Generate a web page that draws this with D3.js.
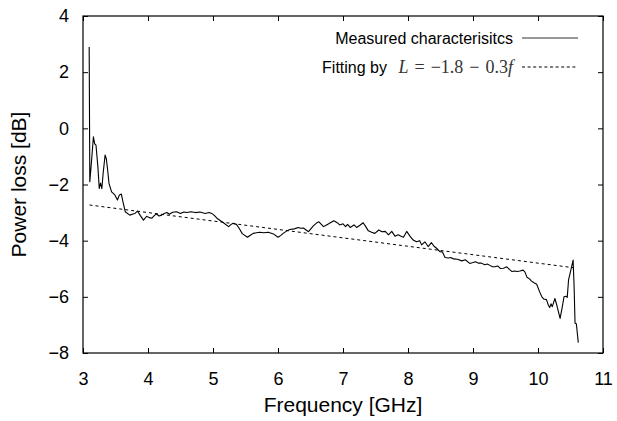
<!DOCTYPE html>
<html>
<head>
<meta charset="utf-8">
<script src="https://cdn.jsdelivr.net/npm/d3@7"></script>
<style>
  body { margin: 0; background: #fff; }
  svg text { font-family: "Liberation Sans", Arial, sans-serif; fill: #000; }
</style>
</head>
<body>
<svg id="chart" width="617" height="421"></svg>
<script>
// measured power loss [GHz, dB]
const measured = [
  [3.095, 2.9], [3.105, -1.9], [3.13, -1.2], [3.16, -0.3], [3.18, -0.55], [3.2, -0.6],
  [3.23, -1.4], [3.25, -2.14], [3.27, -1.95], [3.29, -2.15], [3.31, -1.6], [3.34, -0.95],
  [3.36, -1.1], [3.38, -1.5], [3.40, -1.96], [3.44, -2.26], [3.49, -2.37], [3.53, -2.55],
  [3.56, -2.37], [3.59, -2.34], [3.62, -2.67], [3.65, -2.97], [3.72, -3.09], [3.77, -3.05],
  [3.80, -3.03], [3.84, -2.95], [3.88, -3.1], [3.93, -3.27], [3.98, -3.13], [4.02, -3.18],
  [4.06, -3.2], [4.10, -3.1], [4.13, -3.05], [4.17, -3.12], [4.21, -3.09], [4.25, -3.03],
  [4.29, -3.0], [4.33, -3.06], [4.38, -2.99], [4.44, -2.97], [4.5, -3.03], [4.55, -2.98],
  [4.6, -3.0], [4.66, -2.97], [4.73, -3.0], [4.8, -2.98], [4.88, -3.03], [4.94, -3.0],
  [4.98, -3.03], [5.02, -3.1], [5.06, -3.2], [5.11, -3.28], [5.16, -3.36], [5.24, -3.5],
  [5.28, -3.42], [5.31, -3.38], [5.36, -3.42], [5.40, -3.55], [5.45, -3.75], [5.53, -3.88],
  [5.58, -3.8], [5.62, -3.74], [5.67, -3.72], [5.72, -3.70], [5.78, -3.72], [5.85, -3.70],
  [5.93, -3.76], [6.0, -3.88], [6.04, -3.82], [6.08, -3.74], [6.13, -3.66], [6.18, -3.6],
  [6.25, -3.58], [6.31, -3.53], [6.35, -3.56], [6.39, -3.55], [6.47, -3.68], [6.54, -3.48],
  [6.6, -3.36], [6.63, -3.33], [6.70, -3.5], [6.74, -3.45], [6.78, -3.40], [6.86, -3.29],
  [6.91, -3.36], [6.95, -3.44], [7.0, -3.40], [7.04, -3.5], [7.07, -3.42], [7.11, -3.53],
  [7.17, -3.44], [7.21, -3.53], [7.26, -3.45], [7.31, -3.36], [7.35, -3.5], [7.39, -3.65],
  [7.44, -3.7], [7.49, -3.74], [7.55, -3.62], [7.6, -3.68], [7.65, -3.67], [7.70, -3.79],
  [7.75, -3.67], [7.80, -3.84], [7.85, -3.79], [7.9, -3.85], [7.93, -3.88], [7.98, -3.67],
  [8.03, -3.84], [8.08, -3.98], [8.13, -4.04], [8.18, -4.0], [8.21, -4.15], [8.26, -4.04],
  [8.31, -4.21], [8.36, -4.07], [8.40, -4.2], [8.44, -4.27], [8.49, -4.39], [8.53, -4.4],
  [8.57, -4.6], [8.62, -4.62], [8.66, -4.6], [8.70, -4.65], [8.76, -4.66], [8.83, -4.72],
  [8.88, -4.68], [8.95, -4.81], [9.0, -4.78], [9.04, -4.75], [9.08, -4.8], [9.13, -4.8],
  [9.18, -4.86], [9.22, -4.83], [9.26, -4.88], [9.3, -4.93], [9.34, -4.93], [9.38, -4.9],
  [9.42, -4.99], [9.47, -4.98], [9.52, -4.93], [9.56, -5.02], [9.60, -5.1], [9.64, -5.08],
  [9.68, -5.1], [9.72, -5.08], [9.77, -5.05], [9.80, -5.12], [9.83, -5.3], [9.87, -5.36],
  [9.90, -5.44], [9.94, -5.5], [9.98, -5.55], [10.03, -5.85], [10.06, -6.0], [10.09, -6.08],
  [10.13, -6.1], [10.16, -6.3], [10.18, -6.38], [10.20, -6.25], [10.22, -6.35], [10.26, -6.06],
  [10.29, -6.3], [10.34, -6.77], [10.37, -6.4], [10.40, -6.0], [10.43, -5.98], [10.45, -6.02],
  [10.47, -5.4], [10.50, -5.1], [10.54, -4.69], [10.555, -5.6], [10.57, -6.94], [10.59, -6.96],
  [10.62, -7.63]
];

// fitted line L = -1.8 - 0.3 f, drawn over the measured band
const fitRange = [3.1, 10.55];
const fitCoef = [-1.8, -0.3];

const xTicks = [3, 4, 5, 6, 7, 8, 9, 10, 11];
const yTicks = [-8, -6, -4, -2, 0, 2, 4];

const svg = d3.select('#chart');
const margin = { left: 83, right: 14, top: 16, bottom: 68 };
const width = 617, height = 421;

const x = d3.scaleLinear().domain([3, 11]).range([margin.left, width - margin.right]);
const y = d3.scaleLinear().domain([-8, 4]).range([height - margin.bottom, margin.top]);

const tickLen = 5;

// axes with inward ticks on every side
const addAxis = (axis, tx, ty) => {
  const g = svg.append('g').attr('transform', `translate(${tx},${ty})`).call(axis);
  g.select('.domain').remove();
  g.selectAll('line').attr('stroke', '#000').attr('stroke-width', 1);
  return g;
};

const bottom = addAxis(d3.axisBottom(x).tickValues(xTicks).tickSize(-tickLen).tickPadding(19), 0, y(-8));
bottom.selectAll('text').style('font-size', '18px');
addAxis(d3.axisTop(x).tickValues(xTicks).tickSize(-tickLen).tickFormat(''), 0, y(4));

const left = addAxis(d3.axisLeft(y).tickValues(yTicks).tickSize(-tickLen).tickPadding(14), x(3), 0);
left.selectAll('text').style('font-size', '18px');
addAxis(d3.axisRight(y).tickValues(yTicks).tickSize(-tickLen).tickFormat(''), x(11), 0);

// frame
svg.append('rect')
  .attr('x', x(3)).attr('y', y(4))
  .attr('width', x(11) - x(3)).attr('height', y(-8) - y(4))
  .attr('fill', 'none').attr('stroke', '#000').attr('stroke-width', 1.2);

// fit line
const fitData = fitRange.map(f => [f, fitCoef[0] + fitCoef[1] * f]);
const line = d3.line().x(d => x(d[0])).y(d => y(d[1]));

svg.append('path')
  .datum(fitData)
  .attr('d', line)
  .attr('fill', 'none')
  .attr('stroke', '#000')
  .attr('stroke-width', 1)
  .attr('stroke-dasharray', '3,3');

// measured curve
svg.append('path')
  .datum(measured)
  .attr('d', line)
  .attr('fill', 'none')
  .attr('stroke', '#000')
  .attr('stroke-width', 1.1)
  .attr('stroke-linejoin', 'round');

// legend
const legX = 513, legLine = [522, 578];
svg.append('text')
  .attr('x', legX).attr('y', 44)
  .attr('text-anchor', 'end')
  .style('font-size', '16px')
  .text('Measured characterisitcs');
svg.append('line')
  .attr('x1', legLine[0]).attr('x2', legLine[1])
  .attr('y1', 38).attr('y2', 38)
  .attr('stroke', '#333').attr('stroke-width', 1.2);

svg.append('text')
  .attr('x', 387).attr('y', 72.5)
  .attr('text-anchor', 'end')
  .style('font-size', '16px')
  .text('Fitting by');

// math label, pieces spaced like TeX operators
const mathFont = '"Liberation Serif", "DejaVu Serif", serif';
const mathParts = [
  { t: 'L', italic: true, dx: 0 },
  { t: '=', italic: false, dx: 6 },
  { t: '\u22121.8', italic: false, dx: 6 },
  { t: '\u2212', italic: false, dx: 6 },
  { t: '0.3', italic: false, dx: 6 },
  { t: 'f', italic: true, dx: 0 }
];
const math = svg.append('text')
  .attr('x', legX).attr('y', 72.5)
  .attr('text-anchor', 'end')
  .style('font-family', mathFont)
  .style('font-size', '18px')
  .style('fill', '#333');
mathParts.forEach(p => {
  math.append('tspan')
    .attr('dx', p.dx)
    .style('font-style', p.italic ? 'italic' : 'normal')
    .text(p.t);
});

svg.append('line')
  .attr('x1', legLine[0]).attr('x2', legLine[1])
  .attr('y1', 67).attr('y2', 67)
  .attr('stroke', '#000').attr('stroke-width', 1)
  .attr('stroke-dasharray', '3,2.6');

// axis titles
svg.append('text')
  .attr('x', (x(3) + x(11)) / 2).attr('y', 412)
  .attr('text-anchor', 'middle')
  .style('font-size', '21px')
  .text('Frequency [GHz]');

svg.append('text')
  .attr('transform', `translate(26,${(y(4) + y(-8)) / 2}) rotate(-90)`)
  .attr('text-anchor', 'middle')
  .style('font-size', '21px')
  .text('Power loss [dB]');
</script>
</body>
</html>
